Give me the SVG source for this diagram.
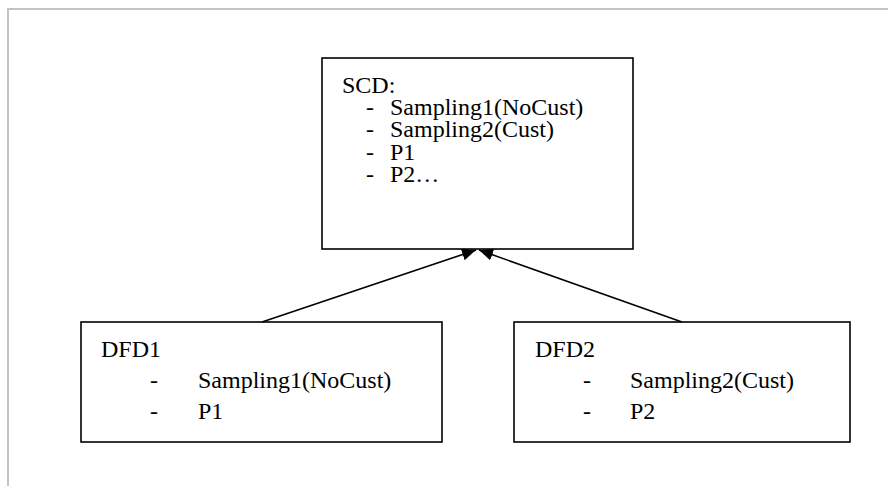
<svg xmlns="http://www.w3.org/2000/svg" width="888" height="486" viewBox="0 0 888 486">
<defs>
<style>
.box{fill:#fff;stroke:#000;stroke-width:1.6}
.t{font-family:"Liberation Serif","Times New Roman",serif;font-size:24px;fill:#000}
.frame{stroke:#c3c3c3;stroke-width:2;fill:none}
.edge{stroke:#000;stroke-width:1.6;fill:none;marker-end:url(#ah)}
</style>
<marker id="ah" markerUnits="userSpaceOnUse" markerWidth="16" markerHeight="14" refX="14" refY="6" orient="auto">
<path d="M0,0 L14,6 L0,12 z" fill="#000"/>
</marker>
</defs>
<rect width="888" height="486" fill="#fff"/>
<path class="frame" d="M8,486 V9 H888"/>
<g id="SCD">
<rect class="box" x="322" y="58" width="311" height="191"/>
<text class="t" x="342" y="93">SCD:</text>
<text class="t" x="366" y="115">-</text><text class="t" x="390" y="115">Sampling1(NoCust)</text>
<text class="t" x="366" y="137">-</text><text class="t" x="390" y="137">Sampling2(Cust)</text>
<text class="t" x="366" y="160">-</text><text class="t" x="390" y="160">P1</text>
<text class="t" x="366" y="182">-</text><text class="t" x="390" y="182">P2…</text>
</g>
<g id="DFD1">
<rect class="box" x="81" y="322" width="361" height="120"/>
<text class="t" x="101" y="357">DFD1</text>
<text class="t" x="150" y="388">-</text><text class="t" x="198" y="388">Sampling1(NoCust)</text>
<text class="t" x="150" y="419">-</text><text class="t" x="198" y="419">P1</text>
</g>
<g id="DFD2">
<rect class="box" x="514" y="322" width="336" height="120"/>
<text class="t" x="535" y="357">DFD2</text>
<text class="t" x="583" y="388">-</text><text class="t" x="630" y="388">Sampling2(Cust)</text>
<text class="t" x="583" y="419">-</text><text class="t" x="630" y="419">P2</text>
</g>
<g id="connectors">
<line class="edge" x1="262" y1="322" x2="476" y2="250"/>
<line class="edge" x1="682" y1="322" x2="479" y2="250"/>
</g>
</svg>
